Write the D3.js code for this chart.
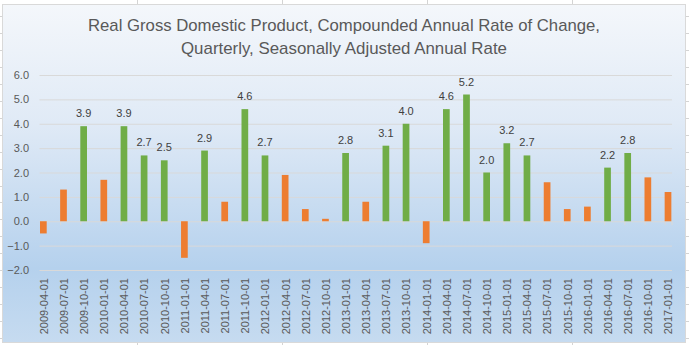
<!DOCTYPE html>
<html>
<head>
<meta charset="utf-8">
<style>
  body { margin: 0; background: #fff; }
  svg { display: block; font-family: "Liberation Sans", Arial, sans-serif; }
</style>
</head>
<body>
<script src="https://d3js.org/d3.v7.min.js"></script>
<svg id="gdp" width="689" height="345"></svg>
<script>
  const quarters = [
    '2009-04-01', '2009-07-01', '2009-10-01', '2010-01-01', '2010-04-01', '2010-07-01',
    '2010-10-01', '2011-01-01', '2011-04-01', '2011-07-01', '2011-10-01', '2012-01-01',
    '2012-04-01', '2012-07-01', '2012-10-01', '2013-01-01', '2013-04-01', '2013-07-01',
    '2013-10-01', '2014-01-01', '2014-04-01', '2014-07-01', '2014-10-01', '2015-01-01',
    '2015-04-01', '2015-07-01', '2015-10-01', '2016-01-01', '2016-04-01', '2016-07-01',
    '2016-10-01', '2017-01-01',
  ];
  const growth = [
    -0.5, 1.3, 3.9, 1.7, 3.9, 2.7,
    2.5, -1.5, 2.9, 0.8, 4.6, 2.7,
    1.9, 0.5, 0.1, 2.8, 0.8, 3.1,
    4.0, -0.9, 4.6, 5.2, 2.0, 3.2,
    2.7, 1.6, 0.5, 0.6, 2.2, 2.8,
    1.8, 1.2,
  ];
  const yTicks = [-2, -1, 0, 1, 2, 3, 4, 5, 6];
  const titleLines = [
    'Real Gross Domestic Product, Compounded Annual Rate of Change,',
    'Quarterly, Seasonally Adjusted Annual Rate',
  ];

  const rows = quarters.map((q, i) => ({ q, v: growth[i] }));
  const svg = d3.select('#gdp');

  // worksheet cell lines peeking out around the chart object
  const sheet = svg.append('g').attr('stroke', '#d4d4d4');
  d3.range(20).forEach((k) => {
    const yy = Math.round(16 + 16.95 * k) + 0.5;
    sheet.append('line').attr('x1', 0).attr('x2', 2).attr('y1', yy).attr('y2', yy);
    sheet.append('line').attr('x1', 686).attr('x2', 689).attr('y1', yy).attr('y2', yy);
  });
  [137.5, 282.5, 427.5, 572.5].forEach((xx) => {
    sheet.append('line').attr('x1', xx).attr('x2', xx).attr('y1', 0).attr('y2', 4);
    sheet.append('line').attr('x1', xx).attr('x2', xx).attr('y1', 342).attr('y2', 345);
  });

  // chart area fill
  const grad = svg.append('defs').append('linearGradient')
    .attr('id', 'bg').attr('x1', 0).attr('y1', 0).attr('x2', 0).attr('y2', 1);
  grad.append('stop').attr('offset', '0%').attr('stop-color', '#f4f7fb');
  grad.append('stop').attr('offset', '35%').attr('stop-color', '#e0eaf6');
  grad.append('stop').attr('offset', '78%').attr('stop-color', '#b5d1ed');
  grad.append('stop').attr('offset', '100%').attr('stop-color', '#c6dbf0');

  svg.append('rect')
    .attr('x', 2.5).attr('y', 4.5).attr('width', 683).attr('height', 338)
    .attr('fill', 'url(#bg)').attr('stroke', '#d9d9d9');

  // title
  svg.append('g').selectAll('text')
    .data(titleLines)
    .enter()
    .append('text')
    .text((d) => d)
    .attr('x', 344)
    .attr('y', (_, i) => 31 + i * 23)
    .attr('text-anchor', 'middle')
    .attr('font-size', 17)
    .attr('fill', '#595959')
    .attr('textLength', (_, i) => (i === 0 ? 512 : 326))
    .attr('lengthAdjust', 'spacingAndGlyphs');

  const barW = 6.7;
  const x = d3.scalePoint().domain(quarters).range([43.35, 668]);
  const y = d3.scaleLinear().domain([-2, 6]).range([270, 75]);

  // horizontal gridlines
  svg.append('g')
    .attr('transform', 'translate(39.5,0)')
    .call(d3.axisLeft(y).tickValues(yTicks).tickSize(-632.5).tickFormat(''))
    .call((g) => g.select('.domain').remove())
    .call((g) => g.selectAll('line').attr('stroke', '#d9d9d9'));

  // value axis labels
  svg.append('g')
    .attr('transform', 'translate(29,0)')
    .call(d3.axisLeft(y).tickValues(yTicks).tickSize(0).tickPadding(0).tickFormat(d3.format('.1f')))
    .call((g) => g.select('.domain').remove())
    .call((g) => g.selectAll('text')
      .attr('font-family', '"Liberation Sans", Arial, sans-serif')
      .attr('font-size', 11)
      .attr('fill', '#595959'));

  // category tick marks on the zero line
  svg.append('g')
    .attr('transform', `translate(${-barW / 2},${y(0)})`)
    .call(d3.axisBottom(x).tickSize(4).tickFormat(''))
    .call((g) => g.select('.domain').remove())
    .call((g) => g.selectAll('line').attr('stroke', '#d9d9d9'));
  svg.append('line')
    .attr('x1', 672).attr('x2', 672).attr('y1', y(0)).attr('y2', y(0) + 4)
    .attr('stroke', '#d9d9d9');

  // category labels
  svg.append('g')
    .attr('transform', 'translate(0,278)')
    .call(d3.axisBottom(x).tickSize(0))
    .call((g) => g.select('.domain').remove())
    .call((g) => g.selectAll('text')
      .attr('transform', 'rotate(-90)')
      .attr('x', 0)
      .attr('y', 0)
      .attr('dy', '0.35em')
      .attr('text-anchor', 'end')
      .attr('font-family', '"Liberation Sans", Arial, sans-serif')
      .attr('font-size', 11)
      .attr('fill', '#595959'));

  // bars: green at 2% and above, orange below
  svg.append('g').selectAll('rect')
    .data(rows)
    .enter()
    .append('rect')
    .attr('x', (d) => x(d.q) - barW / 2)
    .attr('y', (d) => y(Math.max(d.v, 0)))
    .attr('width', barW)
    .attr('height', (d) => Math.abs(y(d.v) - y(0)))
    .attr('fill', (d) => (d.v >= 2 ? '#70ad47' : '#ed7d31'));

  // value labels on the green bars
  svg.append('g').selectAll('text')
    .data(rows.filter((d) => d.v >= 2))
    .enter()
    .append('text')
    .text((d) => d3.format('.1f')(d.v))
    .attr('x', (d) => x(d.q))
    .attr('y', (d) => y(d.v) - 9)
    .attr('text-anchor', 'middle')
    .attr('font-size', 11)
    .attr('fill', '#404040');
</script>
</body>
</html>
